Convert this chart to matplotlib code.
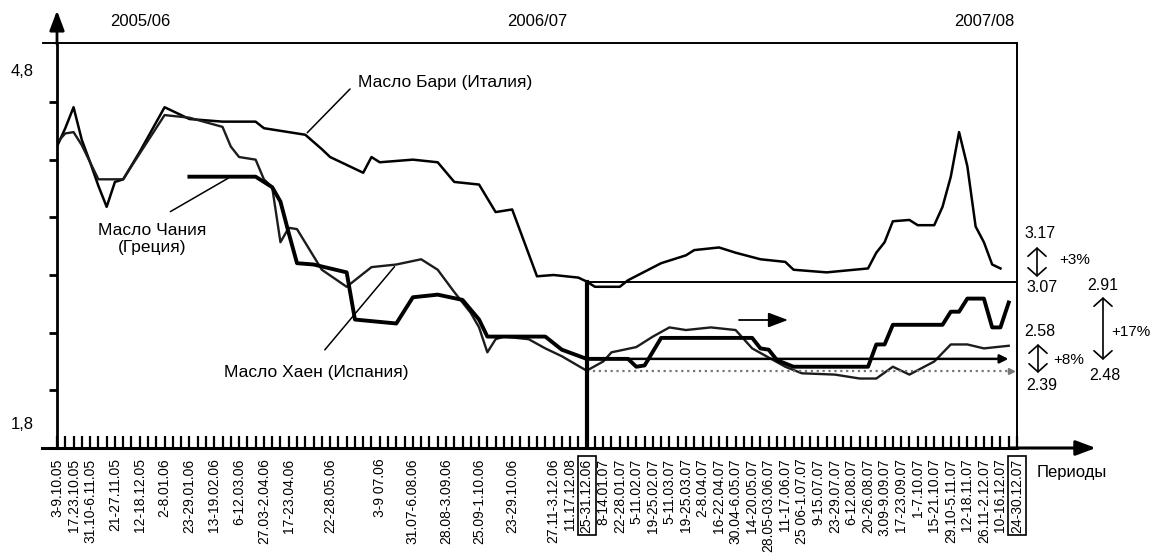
import numpy as np
import matplotlib.pyplot as plt

plt.rcParams['font.family'] = ['Liberation Sans', 'DejaVu Sans']

W, H = 1151, 556

# x = week number: 0 -> 3-9.10.05, 116 -> 24-30.12.07
tick_weeks = [0, 2, 4, 7, 10, 13, 16, 19, 22, 25, 28, 33, 39, 43, 47, 51, 55, 60, 62, 64,
              66, 68, 70, 72, 74, 76, 78, 80, 82, 84, 86, 88, 90, 92, 94, 96, 98, 100,
              102, 104, 106, 108, 110, 112, 114, 116]
tick_labels = ['3-9.10.05', '17.23.10.05', '31.10-6.11.05', '21-27.11.05', '12-18.12.05',
               '2-8.01.06', '23-29.01.06', '13-19.02.06', '6-12.03.06', '27.03-2.04.06',
               '17-23.04.06', '22-28.05.06', '3-9 07.06', '31.07-6.08.06', '28.08-3.09.06',
               '25.09-1.10.06', '23-29.10.06', '27.11-3.12.06', '11.17.12.08', '25-31.12.06',
               '8-14.01.07', '22-28.01.07', '5-11.02.07', '19-25.02.07', '5-11.03.07',
               '19-25.03.07', '2-8.04.07', '16-22.04.07', '30.04-6.05.07', '14-20.05.07',
               '28.05-03.06.07', '11-17.06.07', '25 06-1.07.07', '9-15.07.07', '23-29.07.07',
               '6-12.08.07', '20-26.08.07', '3.09-9.09.07', '17-23.09.07', '1-7.10.07',
               '15-21.10.07', '29.10-5.11.07', '12-18.11.07', '26.11-2.12.07', '10-16.12.07',
               '24-30.12.07']
boxed = ['25-31.12.06', '24-30.12.07']
n_weeks = 117
years = ['2005/06', '2006/07', '2007/08']
year_weeks = [10, 58, 112]

# Масло Бари (Италия)
bari_weeks = [0, 1, 2, 3, 4, 5, 6, 7, 8, 10, 13, 16, 20, 24, 25, 30, 32, 33, 37, 38, 39, 43,
              46, 48, 51, 53, 55, 58, 60, 63, 64, 65, 68, 69, 73, 76, 77, 80, 82, 85, 88, 89,
              93, 98, 99, 100, 101, 103, 104, 106, 107, 108, 109, 110, 111, 112, 113, 114]
bari_price = [4.10, 4.24, 4.40, 4.15, 3.98, 3.80, 3.64, 3.83, 3.85, 4.06, 4.40, 4.31, 4.29,
              4.29, 4.24, 4.19, 4.08, 4.02, 3.90, 4.02, 3.98, 4.00, 3.98, 3.83, 3.81, 3.60,
              3.62, 3.11, 3.12, 3.10, 3.07, 3.03, 3.03, 3.08, 3.21, 3.27, 3.31, 3.33, 3.29,
              3.24, 3.22, 3.16, 3.14, 3.17, 3.29, 3.37, 3.53, 3.54, 3.50, 3.50, 3.64, 3.87,
              4.21, 3.95, 3.49, 3.37, 3.20, 3.17]

# Масло Хаен (Испания)
spain_weeks = [0, 1, 2, 3, 5, 8, 9, 13, 16, 20, 21, 22, 24, 25, 26, 27, 28, 29, 32, 35, 38,
               41, 44, 46, 48, 50, 51, 52, 53, 54, 57, 59, 61, 64, 66, 67, 70, 72, 74, 76,
               79, 82, 83, 84, 86, 88, 90, 94, 97, 99, 101, 103, 106, 108, 110, 112, 115]
spain_price = [4.13, 4.20, 4.21, 4.11, 3.85, 3.85, 3.95, 4.34, 4.32, 4.25, 4.10, 4.02, 4.00,
               3.85, 3.79, 3.37, 3.48, 3.47, 3.16, 3.03, 3.18, 3.20, 3.24, 3.16, 2.99, 2.83,
               2.72, 2.53, 2.63, 2.65, 2.63, 2.56, 2.50, 2.39, 2.46, 2.53, 2.57, 2.65, 2.72,
               2.70, 2.72, 2.70, 2.63, 2.56, 2.49, 2.42, 2.37, 2.36, 2.33, 2.33, 2.42, 2.36,
               2.46, 2.59, 2.59, 2.56, 2.58]

# Масло Чания (Греция)
greece_weeks = [16, 24, 26, 27, 28, 29, 31, 35, 36, 41, 43, 46, 49, 51, 52, 59, 61, 64, 69,
                70, 71, 73, 84, 85, 86, 87, 89, 98, 99, 100, 101, 107, 108, 109, 110, 112,
                113, 114, 115]
greece_price = [3.87, 3.87, 3.79, 3.68, 3.44, 3.21, 3.20, 3.14, 2.78, 2.75, 2.95, 2.97,
                2.93, 2.78, 2.65, 2.65, 2.55, 2.48, 2.48, 2.42, 2.43, 2.64, 2.64, 2.56,
                2.55, 2.47, 2.42, 2.42, 2.59, 2.59, 2.74, 2.74, 2.84, 2.84, 2.94, 2.94,
                2.72, 2.72, 2.91]

base_week = 64  # 25-31.12.06
bari_base, bari_end = 3.07, 3.17
greece_base, greece_end = 2.48, 2.91
spain_base, spain_end = 2.39, 2.58


def at(px, py):
    # pixel position in the picture -> figure fraction
    return px / W, 1 - py / H


def pct(a, b):
    return f'+{(b / a - 1) * 100:.0f}%'


fig = plt.figure(figsize=(W / 100, H / 100), dpi=100)
ax = fig.add_axes([57 / W, 108 / H, 960 / W, 405 / H])
ax.set_xlim(0, n_weeks - 1)
ax.set_ylim(1.8, 4.89)

ax.plot(bari_weeks, bari_price, color='black', lw=1.8, solid_joinstyle='round')
ax.plot(spain_weeks, spain_price, color='#1c1c1c', lw=1.7, solid_joinstyle='round')
ax.plot(greece_weeks, greece_price, color='black', lw=2.8, solid_joinstyle='round')

# reference levels from 25-31.12.06
ax.plot([base_week, n_weeks - 1], [bari_base, bari_base], color='black', lw=1.4)
ax.annotate('', xy=(115.3, greece_base), xytext=(base_week, greece_base),
            arrowprops=dict(arrowstyle='-|>,head_length=0.5,head_width=0.25',
                            color='black', lw=1.8, mutation_scale=10))
ax.plot([base_week, 115.3], [spain_base, spain_base], color='#777777', lw=1.6, ls=':')
ax.plot([115.3], [spain_base], marker='>', color='#777777', ms=4)
ax.plot([base_week, base_week], [1.8, bari_base], color='black', lw=3)

# axes look
for side, lw in [('left', 2), ('bottom', 2.2), ('top', 1.4), ('right', 1.4)]:
    ax.spines[side].set_linewidth(lw)
ax.plot([-0.015, 0], [1, 1], transform=ax.transAxes, clip_on=False, color='black', lw=1.4)
ax.plot([-0.016, 0], [0, 0], transform=ax.transAxes, clip_on=False, color='black', lw=2.2)
head = '-|>,head_length=0.8,head_width=0.3'
ax.annotate('', xy=(1.085, 0), xycoords='axes fraction', xytext=(0.99, 0),
            arrowprops=dict(arrowstyle=head, color='black', lw=2.2, mutation_scale=15))
ax.annotate('', xy=(0, 1.087), xycoords='axes fraction', xytext=(0, 0.99),
            arrowprops=dict(arrowstyle=head, color='black', lw=2, mutation_scale=15))

labels = [''] * n_weeks
for w, lab in zip(tick_weeks, tick_labels):
    labels[w] = lab
ax.set_xticks(np.arange(n_weeks))
ax.set_xticklabels(labels, rotation=90, fontsize=10)
ax.tick_params(axis='x', direction='in', length=9, width=1.6, pad=7.5)
for t in ax.get_xticklabels():
    if t.get_text() in boxed:
        t.set_bbox(dict(boxstyle='square,pad=0.15', fc='white', ec='black', lw=1.2))

ax.set_yticks(1.8 + 0.44 * np.arange(7))
ax.tick_params(axis='y', direction='out', length=6, width=2, labelleft=False)
ax.text(-0.036, 4.67, '4,8', transform=ax.get_yaxis_transform(), ha='center', va='center',
        fontsize=12)
ax.text(-0.036, 1.98, '1,8', transform=ax.get_yaxis_transform(), ha='center', va='center',
        fontsize=12)

for lab, w in zip(years, year_weeks):
    ax.text(w, 1.053, lab, transform=ax.get_xaxis_transform(), ha='center', va='center',
            fontsize=12)

# series labels with leader lines
fig.text(*at(445, 82), 'Масло Бари (Италия)', ha='center', va='center', fontsize=12.5)
ax.annotate('', xy=(30, 4.19), xytext=at(352, 87), textcoords='figure fraction',
            arrowprops=dict(arrowstyle='-', color='black', lw=1.1))
fig.text(*at(152, 239), 'Масло Чания\n(Греция)', ha='center', va='center', fontsize=12.5,
         linespacing=1.2)
ax.annotate('', xy=(21, 3.87), xytext=at(168, 213), textcoords='figure fraction',
            arrowprops=dict(arrowstyle='-', color='black', lw=1.1))
fig.text(*at(316, 372), 'Масло Хаен (Испания)', ha='center', va='center', fontsize=12.5)
ax.annotate('', xy=(41, 3.20), xytext=at(323, 352), textcoords='figure fraction',
            arrowprops=dict(arrowstyle='-', color='black', lw=1.1))

# right side notes
fig.text(*at(1040, 233), f'{bari_end:.2f}', ha='center', va='center', fontsize=11.5)
fig.text(*at(1042, 287), f'{bari_base:.2f}', ha='center', va='center', fontsize=11.5)
fig.text(*at(1075, 260), pct(bari_base, bari_end), ha='center', va='center', fontsize=11)
fig.text(*at(1040, 332), f'{spain_end:.2f}', ha='center', va='center', fontsize=11.5)
fig.text(*at(1042, 385), f'{spain_base:.2f}', ha='center', va='center', fontsize=11.5)
fig.text(*at(1069, 360), pct(spain_base, spain_end), ha='center', va='center', fontsize=11)
fig.text(*at(1103, 285), f'{greece_end:.2f}', ha='center', va='center', fontsize=11.5)
fig.text(*at(1105, 375), f'{greece_base:.2f}', ha='center', va='center', fontsize=11.5)
fig.text(*at(1131, 332), pct(greece_base, greece_end), ha='center', va='center',
         fontsize=11)
dbl = dict(arrowstyle='<->,head_length=0.45,head_width=0.5', color='black', lw=1.2,
           mutation_scale=13, shrinkA=0, shrinkB=0)
for x, y0, y1 in [(1037, 247, 277), (1038, 344, 373), (1103, 297, 360)]:
    ax.annotate('', xy=at(x, y0), xycoords='figure fraction', xytext=at(x, y1),
                textcoords='figure fraction', arrowprops=dbl)
ax.annotate('', xy=at(788, 320), xycoords='figure fraction', xytext=at(739, 320),
            textcoords='figure fraction',
            arrowprops=dict(arrowstyle='-|>,head_length=0.8,head_width=0.3', color='black',
                            lw=1.3, mutation_scale=15, shrinkA=0, shrinkB=0))

fig.text(*at(1072, 472), 'Периоды', ha='center', va='center', fontsize=12)

fig.savefig('out.png', dpi=100)
